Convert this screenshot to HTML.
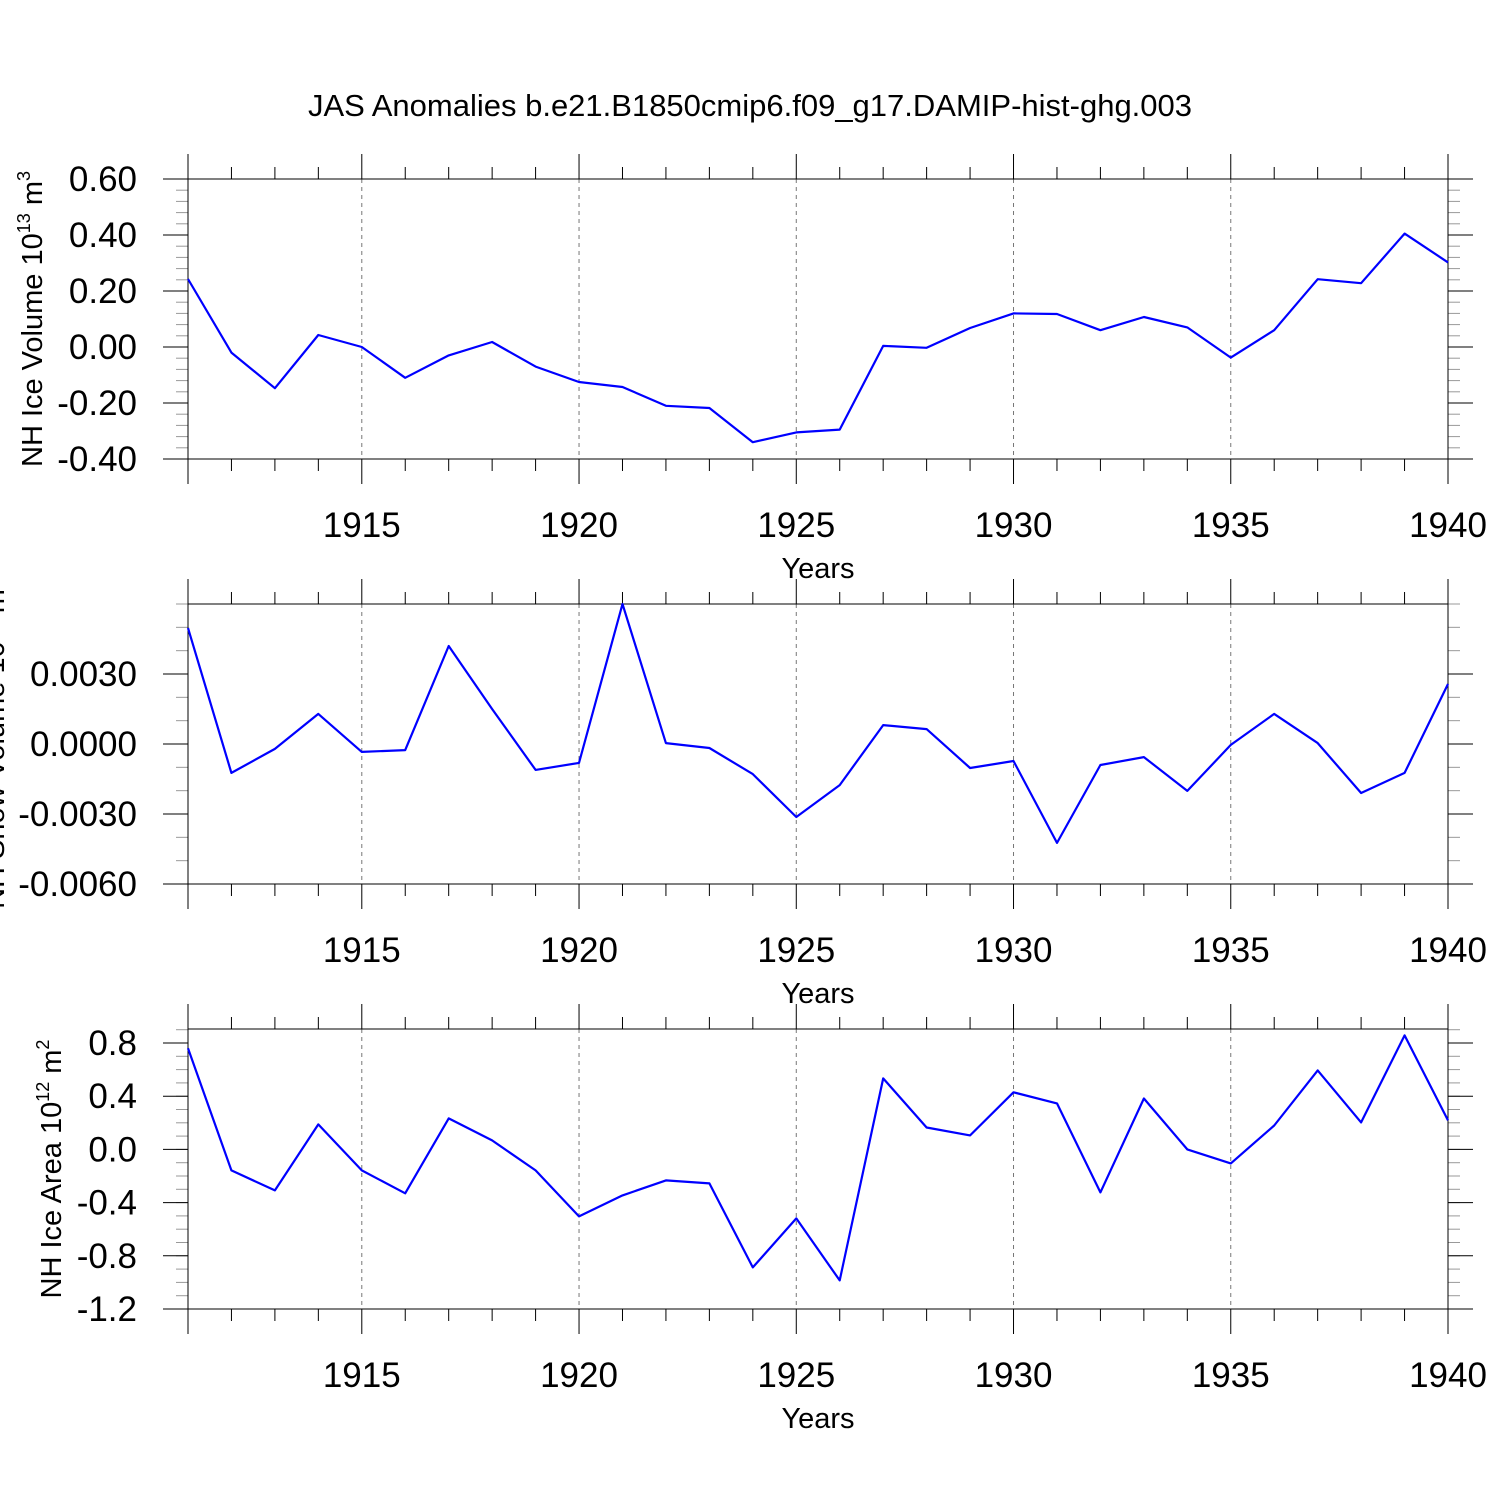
<!DOCTYPE html>
<html><head><meta charset="utf-8"><style>
body{margin:0;background:#fff}
svg{display:block;font-family:"Liberation Sans",Arial,sans-serif}
</style></head><body>
<svg id="c" width="1500" height="1500" viewBox="0 0 1500 1500">
<text x="750" y="116" text-anchor="middle" font-size="31">JAS Anomalies b.e21.B1850cmip6.f09_g17.DAMIP-hist-ghg.003</text>
</svg>
<script>
const years=[1911,1912,1913,1914,1915,1916,1917,1918,1919,1920,1921,1922,1923,1924,1925,1926,1927,1928,1929,1930,1931,1932,1933,1934,1935,1936,1937,1938,1939,1940];
const iceVolume=[0.243,-0.02,-0.147,0.043,0.0,-0.11,-0.03,0.018,-0.07,-0.125,-0.143,-0.21,-0.218,-0.34,-0.305,-0.295,0.004,-0.003,0.068,0.12,0.118,0.06,0.107,0.07,-0.038,0.06,0.242,0.228,0.405,0.302];
const snowVolume=[0.00497,-0.00124,-0.00021,0.00129,-0.00034,-0.00026,0.0042,0.0015,-0.00111,-0.00081,0.006,0.00004,-0.00017,-0.00129,-0.00313,-0.00176,0.00081,0.00064,-0.00103,-0.00073,-0.00424,-0.0009,-0.00056,-0.00201,-0.00004,0.00129,0.00004,-0.0021,-0.00124,0.00257];
const iceArea=[0.76,-0.158,-0.308,0.188,-0.158,-0.33,0.233,0.068,-0.158,-0.504,-0.346,-0.233,-0.256,-0.887,-0.519,-0.985,0.534,0.165,0.105,0.429,0.346,-0.323,0.383,0.0,-0.105,0.18,0.594,0.203,0.857,0.218];
const xTicks=[1915,1920,1925,1930,1935,1940];
const yTicks1=[0.6,0.4,0.2,0.0,-0.2,-0.4];
const yLabels1=["0.60","0.40","0.20","0.00","-0.20","-0.40"];
const yTicks2=[0.003,0,-0.003,-0.006];
const yLabels2=["0.0030","0.0000","-0.0030","-0.0060"];
const yTicks3=[0.8,0.4,0.0,-0.4,-0.8,-1.2];
const yLabels3=["0.8","0.4","0.0","-0.4","-0.8","-1.2"];

const svg=document.getElementById('c');
const NS='http://www.w3.org/2000/svg';
function mk(tag,attrs,parent){const e=document.createElementNS(NS,tag);for(const k in attrs)e.setAttribute(k,attrs[k]);(parent||svg).appendChild(e);return e;}
const X0=188,X1=1448;
function xs(y){return X0+(y-1911)*(X1-X0)/29;}

function panel(name,top,ymin,ymax,data,ticks,labels,minorStep,ylabel,ylabelX,sup1,sup2){
  const bot=top+280;
  const ys=v=>bot-(v-ymin)*280/(ymax-ymin);
  const g=mk('g',{});
  
  
  xTicks.forEach(t=>{if(t<1940){const l=mk('line',{x1:xs(t),x2:xs(t),y1:top,y2:bot,stroke:'#777','stroke-width':1,'stroke-dasharray':'4,4'},g);
    }});
  for(let y=1911;y<=1940;y++){
    const maj=(y%5===0)||y===1911;const len=maj?25:12;const x=xs(y);
    mk('line',{x1:x,x2:x,y1:top-len,y2:top,stroke:'#000','stroke-width':1},g);
    mk('line',{x1:x,x2:x,y1:bot,y2:bot+len,stroke:'#000','stroke-width':1},g);
  }
  const n=Math.round((ymax-ymin)/minorStep);
  for(let i=0;i<=n;i++){const v=ymin+i*minorStep;const y=ys(v);
    mk('line',{x1:X0-12,x2:X0,y1:y,y2:y,stroke:'#999','stroke-width':1},g);
    mk('line',{x1:X1,x2:X1+12,y1:y,y2:y,stroke:'#999','stroke-width':1},g);}
  ticks.forEach((t,i)=>{const y=ys(t);
    mk('line',{x1:X0-25,x2:X0,y1:y,y2:y,stroke:'#000','stroke-width':1},g);
    mk('line',{x1:X1,x2:X1+25,y1:y,y2:y,stroke:'#000','stroke-width':1},g);
    const tx=mk('text',{x:137,y:y+12,'text-anchor':'end','font-size':35},g);tx.textContent=labels[i];
    });
  xTicks.forEach(t=>{const tx=mk('text',{x:xs(t),y:bot+78,'text-anchor':'middle','font-size':35},g);tx.textContent=t;
    });
  const xl=mk('text',{x:818,y:bot+119,'text-anchor':'middle','font-size':29},g);xl.textContent='Years';
  
  mk('rect',{x:X0,y:top,width:X1-X0,height:280,fill:'none',stroke:'#000','stroke-width':1},g);
  const yl=mk('text',{transform:`translate(${ylabelX},${top+140}) rotate(-90)`,'text-anchor':'middle','font-size':29},g);
  yl.innerHTML=`${ylabel} 10<tspan dy="-12" font-size="18">${sup1}</tspan><tspan dy="12"> m</tspan><tspan dy="-12" font-size="18">${sup2}</tspan>`;
  
  const pts=data.map((v,i)=>xs(years[i]).toFixed(1)+','+ys(v).toFixed(1)).join(' ');
  const pl=mk('polyline',{points:pts,fill:'none',stroke:'#0000ff','stroke-width':2.2,'stroke-linejoin':'round'},g);
  
}
panel('ice-volume-panel',179,-0.4,0.6,iceVolume,yTicks1,yLabels1,0.04,'NH Ice Volume',42,'13','3');
panel('snow-volume-panel',604,-0.006,0.006,snowVolume,yTicks2,yLabels2,0.001,'NH Snow Volume',4,'13','3');
panel('ice-area-panel',1029,-1.2,0.8+14/133,iceArea,yTicks3,yLabels3,0.1,'NH Ice Area',61,'12','2');
</script>
</body></html>
